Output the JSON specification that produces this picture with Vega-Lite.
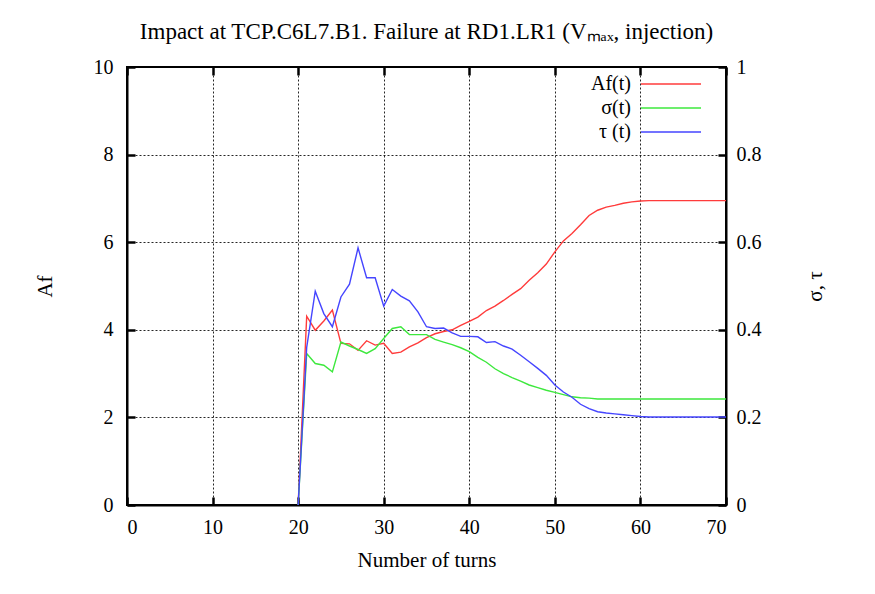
{
  "$schema": "https://vega.github.io/schema/vega-lite/v6.json",
  "autosize": "none",
  "width": 599,
  "height": 438,
  "padding": {"left": 127, "top": 67, "right": 149, "bottom": 89},
  "background": "white",
  "title": {
    "text": "Impact at TCP.C6L7.B1. Failure at RD1.LR1 (Vₘₐₓ, injection)",
    "font": "Liberation Serif",
    "fontSize": 23,
    "fontWeight": "normal",
    "color": "black",
    "anchor": "middle",
    "offset": 13
  },
  "config": {
    "font": "Liberation Serif",
    "view": {"stroke": "black", "strokeWidth": 2},
    "axis": {
      "labelFont": "Liberation Serif",
      "labelFontSize": 20,
      "labelColor": "black",
      "titleFont": "Liberation Serif",
      "titleFontSize": 21,
      "titleFontWeight": "normal",
      "titleColor": "black",
      "domainColor": "black",
      "domainWidth": 2,
      "tickColor": "black",
      "tickWidth": 2.5,
      "tickSize": -8,
      "gridColor": "black",
      "gridDash": [2, 2],
      "gridWidth": 1,
      "gridOpacity": 0.85
    },
    "legend": {
      "labelFont": "Liberation Serif",
      "labelFontSize": 20,
      "labelColor": "black"
    }
  },
  "data": {
    "values": [
      {"turn": 20, "Af": 0, "sigma": 0, "tau": 0},
      {"turn": 21, "Af": 4.31, "sigma": 0.346, "tau": 0.36},
      {"turn": 22, "Af": 3.99, "sigma": 0.323, "tau": 0.488},
      {"turn": 23, "Af": 4.2, "sigma": 0.319, "tau": 0.437},
      {"turn": 24, "Af": 4.45, "sigma": 0.304, "tau": 0.407},
      {"turn": 25, "Af": 3.69, "sigma": 0.372, "tau": 0.475},
      {"turn": 26, "Af": 3.68, "sigma": 0.363, "tau": 0.504},
      {"turn": 27, "Af": 3.53, "sigma": 0.355, "tau": 0.587},
      {"turn": 28, "Af": 3.75, "sigma": 0.346, "tau": 0.519},
      {"turn": 29, "Af": 3.65, "sigma": 0.357, "tau": 0.519},
      {"turn": 30, "Af": 3.69, "sigma": 0.38, "tau": 0.454},
      {"turn": 31, "Af": 3.46, "sigma": 0.403, "tau": 0.492},
      {"turn": 32, "Af": 3.49, "sigma": 0.407, "tau": 0.477},
      {"turn": 33, "Af": 3.61, "sigma": 0.389, "tau": 0.466},
      {"turn": 34, "Af": 3.7, "sigma": 0.389, "tau": 0.441},
      {"turn": 35, "Af": 3.82, "sigma": 0.389, "tau": 0.407},
      {"turn": 36, "Af": 3.91, "sigma": 0.378, "tau": 0.403},
      {"turn": 37, "Af": 3.96, "sigma": 0.372, "tau": 0.404},
      {"turn": 38, "Af": 4.0, "sigma": 0.366, "tau": 0.393},
      {"turn": 39, "Af": 4.1, "sigma": 0.359, "tau": 0.385},
      {"turn": 40, "Af": 4.19, "sigma": 0.35, "tau": 0.385},
      {"turn": 41, "Af": 4.29, "sigma": 0.337, "tau": 0.384},
      {"turn": 42, "Af": 4.44, "sigma": 0.326, "tau": 0.371},
      {"turn": 43, "Af": 4.54, "sigma": 0.311, "tau": 0.373},
      {"turn": 44, "Af": 4.67, "sigma": 0.3, "tau": 0.363},
      {"turn": 45, "Af": 4.81, "sigma": 0.291, "tau": 0.356},
      {"turn": 46, "Af": 4.94, "sigma": 0.283, "tau": 0.342},
      {"turn": 47, "Af": 5.13, "sigma": 0.274, "tau": 0.327},
      {"turn": 48, "Af": 5.3, "sigma": 0.268, "tau": 0.312},
      {"turn": 49, "Af": 5.5, "sigma": 0.262, "tau": 0.296},
      {"turn": 50, "Af": 5.78, "sigma": 0.257, "tau": 0.274},
      {"turn": 51, "Af": 6.03, "sigma": 0.252, "tau": 0.258},
      {"turn": 52, "Af": 6.2, "sigma": 0.247, "tau": 0.246},
      {"turn": 53, "Af": 6.4, "sigma": 0.245, "tau": 0.23},
      {"turn": 54, "Af": 6.61, "sigma": 0.244, "tau": 0.22},
      {"turn": 55, "Af": 6.73, "sigma": 0.242, "tau": 0.213},
      {"turn": 56, "Af": 6.8, "sigma": 0.242, "tau": 0.21},
      {"turn": 57, "Af": 6.84, "sigma": 0.242, "tau": 0.208},
      {"turn": 58, "Af": 6.89, "sigma": 0.242, "tau": 0.206},
      {"turn": 59, "Af": 6.92, "sigma": 0.242, "tau": 0.204},
      {"turn": 60, "Af": 6.94, "sigma": 0.242, "tau": 0.202},
      {"turn": 61, "Af": 6.95, "sigma": 0.242, "tau": 0.201},
      {"turn": 62, "Af": 6.95, "sigma": 0.242, "tau": 0.201},
      {"turn": 63, "Af": 6.95, "sigma": 0.242, "tau": 0.201},
      {"turn": 64, "Af": 6.95, "sigma": 0.242, "tau": 0.201},
      {"turn": 65, "Af": 6.95, "sigma": 0.242, "tau": 0.201},
      {"turn": 66, "Af": 6.95, "sigma": 0.242, "tau": 0.201},
      {"turn": 67, "Af": 6.95, "sigma": 0.242, "tau": 0.201},
      {"turn": 68, "Af": 6.95, "sigma": 0.242, "tau": 0.201},
      {"turn": 69, "Af": 6.95, "sigma": 0.242, "tau": 0.201},
      {"turn": 70, "Af": 6.95, "sigma": 0.242, "tau": 0.201}
    ]
  },
  "layer": [
    {
      "transform": [{"fold": ["Af"], "as": ["series", "value"]}],
      "mark": {"type": "line", "strokeWidth": 1.4},
      "encoding": {
        "x": {
          "field": "turn", "type": "quantitative",
          "scale": {"domain": [0, 70], "nice": false},
          "axis": {"orient": "bottom", "values": [0, 10, 20, 30, 40, 50, 60, 70], "title": "Number of turns", "grid": true, "labelPadding": 20, "titlePadding": 12}
        },
        "y": {
          "field": "value", "type": "quantitative",
          "scale": {"domain": [0, 10], "nice": false},
          "axis": {"orient": "left", "values": [0, 2, 4, 6, 8, 10], "format": "d", "title": "Af", "grid": true, "labelPadding": 22, "titlePadding": 38}
        },
        "color": {
          "field": "series", "type": "nominal",
          "scale": {"domain": ["Af", "sigma", "tau"], "range": ["#ff3b3b", "#3de83d", "#4545ff"]},
          "legend": {
            "title": null,
            "orient": "none",
            "legendX": 480,
            "legendY": 7,
            "symbolType": "M4,0H14",
            "symbolSize": 144,
            "symbolStrokeWidth": 1.5,
            "labelAlign": "right",
            "labelOffset": 4,
            "rowPadding": 4,
            "labelExpr": "datum.label == 'Af' ? 'Af(t)' : datum.label == 'sigma' ? 'σ(t)' : 'τ (t)'"
          }
        }
      }
    },
    {
      "transform": [{"fold": ["sigma", "tau"], "as": ["series", "value"]}],
      "mark": {"type": "line", "strokeWidth": 1.4},
      "encoding": {
        "x": {
          "field": "turn", "type": "quantitative",
          "scale": {"domain": [0, 70], "nice": false},
          "axis": {"orient": "top", "values": [0, 10, 20, 30, 40, 50, 60, 70], "labels": false, "title": null, "grid": false, "domain": false}
        },
        "y": {
          "field": "value", "type": "quantitative",
          "scale": {"domain": [0, 1], "nice": false},
          "axis": {"orient": "right", "values": [0, 0.2, 0.4, 0.6, 0.8, 1], "format": "~g", "title": "σ, τ", "titleAngle": 270, "grid": false, "labelPadding": 18, "titlePadding": 64}
        },
        "color": {"field": "series", "type": "nominal"}
      }
    }
  ],
  "resolve": {"scale": {"x": "independent", "y": "independent"}}
}
